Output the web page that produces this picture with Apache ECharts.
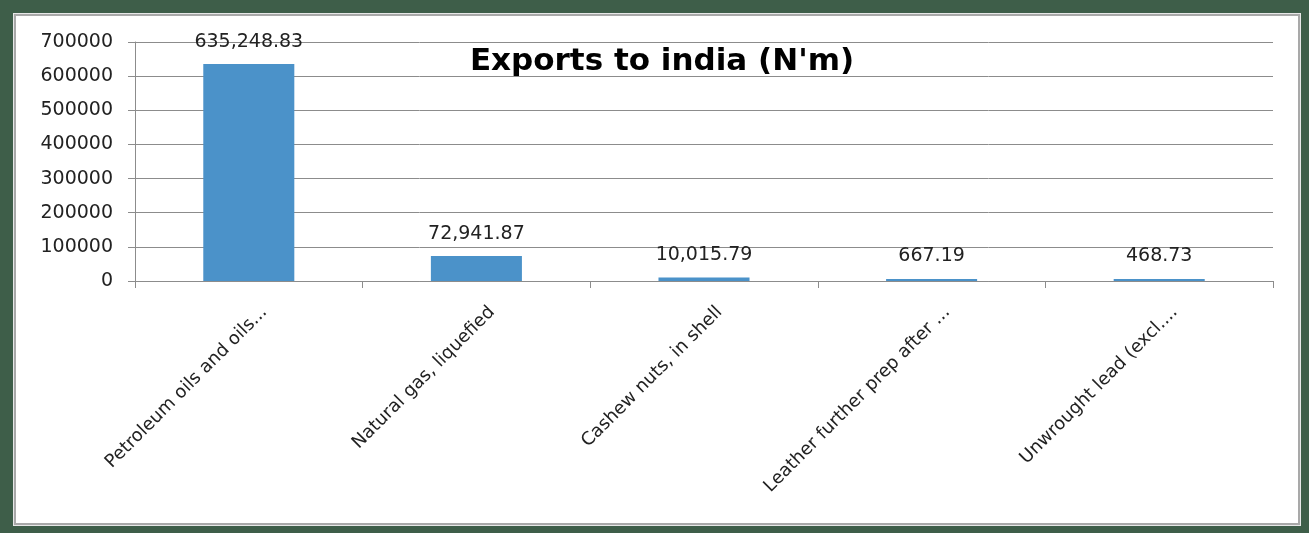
<!DOCTYPE html>
<html>
<head>
<meta charset="utf-8">
<script src="https://cdn.jsdelivr.net/npm/echarts@6/dist/echarts.min.js"></script>
<style>
html,body{margin:0;padding:0;width:1309px;height:533px;background:#3e5e49;overflow:hidden;}
#frame{position:absolute;left:14px;top:14px;width:1282px;height:507px;background:#fff;border:2px solid #a9a9a9;box-shadow:0 0 0 1px #e8e8e8;}
#chart{position:absolute;left:0;top:0;width:1309px;height:533px;}
</style>
</head>
<body>
<div id="frame"></div>
<div id="chart"></div>
<script>
const categories = [
  "Petroleum oils and oils...",
  "Natural gas, liquefied",
  "Cashew nuts, in shell",
  "Leather further prep after ...",
  "Unwrought lead (excl...."
];
const values = [635248.83, 72941.87, 10015.79, 667.19, 468.73];
const yTicks = [0, 100000, 200000, 300000, 400000, 500000, 600000, 700000];
const titleText = "Exports to india (N'm)";

const chart = echarts.init(document.getElementById('chart'), null, {renderer: 'canvas'});
const fmt = v => v.toLocaleString('en-US', {minimumFractionDigits: 2, maximumFractionDigits: 2});
chart.setOption({
  backgroundColor: 'transparent',
  animation: false,
  title: {
    text: titleText,
    left: 657, top: 41, textAlign: 'center',
    textStyle: {fontFamily: 'DejaVu Sans', fontWeight: 'bold', fontSize: 31, color: '#000'}
  },
  grid: {left: 135, right: 36, top: 42, bottom: 252, containLabel: false},
  xAxis: {
    type: 'category',
    data: categories,
    axisLine: {lineStyle: {color: '#8c8c8c', width: 1}},
    axisTick: {show: true, alignWithLabel: false, length: 7, lineStyle: {color: '#8c8c8c'}},
    axisLabel: {rotate: 45, margin: 44, interval: 0, padding: [0, -22, 0, 0], fontFamily: 'DejaVu Sans', fontSize: 18, color: '#222'}
  },
  yAxis: {
    type: 'value',
    min: yTicks[0], max: yTicks[yTicks.length - 1], interval: 100000,
    axisLine: {show: true, lineStyle: {color: '#8c8c8c'}},
    axisTick: {show: true, length: 7, lineStyle: {color: '#8c8c8c'}},
    splitLine: {lineStyle: {color: '#8c8c8c', width: 1}},
    axisLabel: {margin: 22, fontFamily: 'DejaVu Sans', fontSize: 19, color: '#222', formatter: v => String(v)}
  },
  series: [{
    type: 'bar',
    data: values,
    barWidth: '40%',
    barMinHeight: 2,
    itemStyle: {color: '#4b92c9'},
    label: {
      show: true, position: 'top', distance: 13,
      formatter: p => fmt(p.value),
      fontFamily: 'DejaVu Sans', fontSize: 19, color: '#222'
    }
  }]
});
</script>
</body>
</html>
